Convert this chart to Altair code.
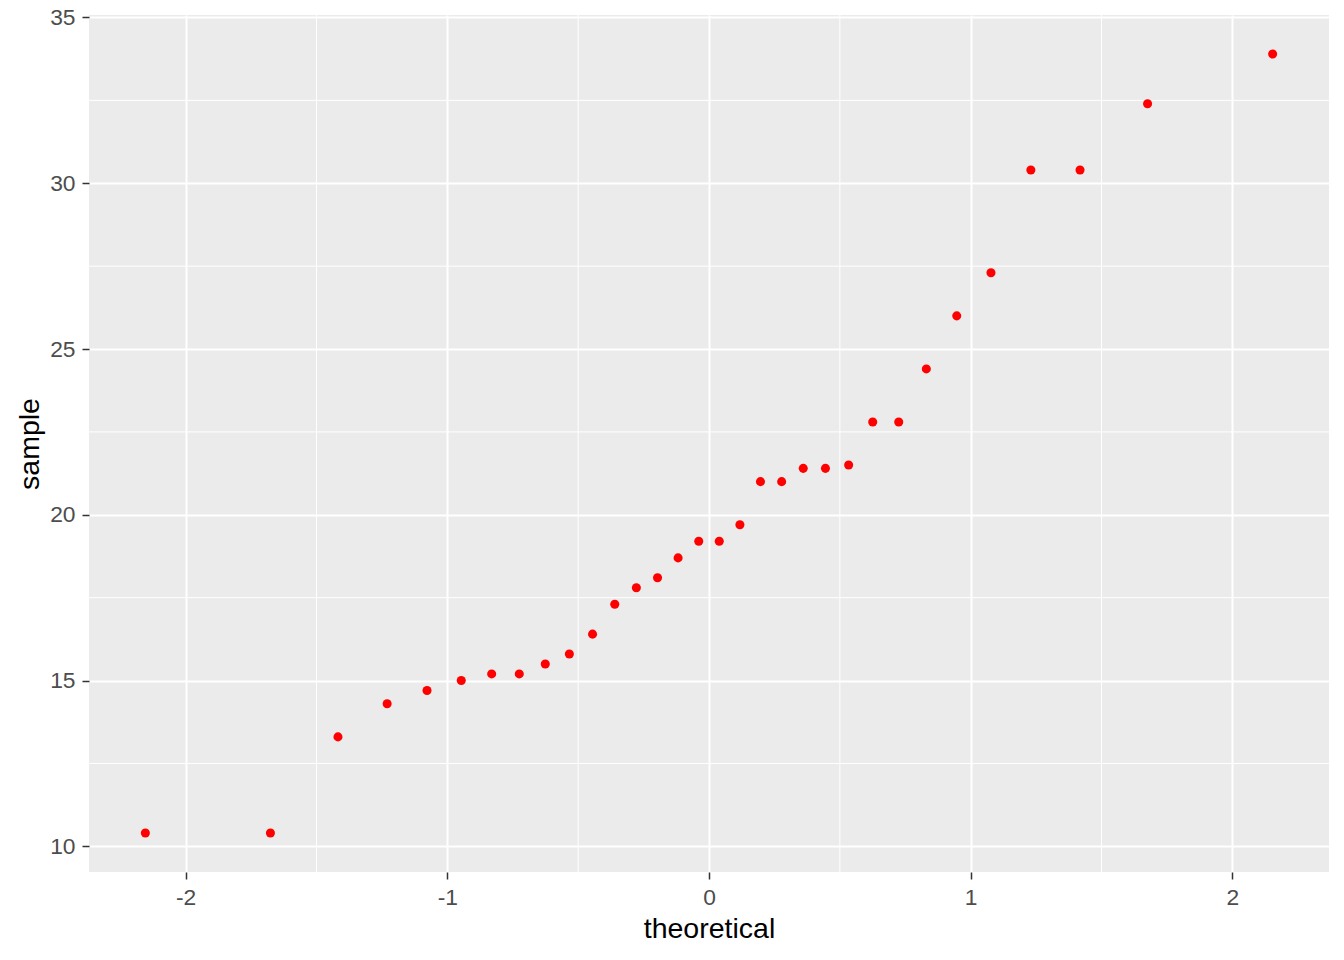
import altair as alt
import pandas as pd

theoretical = [-2.1538, -1.6759, -1.4178, -1.2299, -1.0775, -0.9467, -0.8305, -0.7250,
               -0.6256, -0.5336, -0.4450, -0.3601, -0.2776, -0.1967, -0.1181, -0.0392,
               0.0392, 0.1181, 0.1967, 0.2776, 0.3601, 0.4450, 0.5336, 0.6256,
               0.7250, 0.8305, 0.9467, 1.0775, 1.2299, 1.4178, 1.6759, 2.1538]
sample = [10.4, 10.4, 13.3, 14.3, 14.7, 15.0, 15.2, 15.2, 15.5, 15.8, 16.4, 17.3,
          17.8, 18.1, 18.7, 19.2, 19.2, 19.7, 21.0, 21.0, 21.4, 21.4, 21.5, 22.8,
          22.8, 24.4, 26.0, 27.3, 30.4, 30.4, 32.4, 33.9]
x_major = [-2, -1, 0, 1, 2]
x_minor = [-1.5, -0.5, 0.5, 1.5]
y_major = [10, 15, 20, 25, 30, 35]
y_minor = [12.5, 17.5, 22.5, 27.5, 32.5]
x_domain = [-2.3692, 2.3692]
y_domain = [9.225, 35.075]

df = pd.DataFrame({"theoretical": theoretical, "sample": sample})
xs = alt.Scale(domain=x_domain, nice=False, zero=False)
ys = alt.Scale(domain=y_domain, nice=False, zero=False)
xaxis = alt.Axis(values=x_major, labelExpr="'' + datum.value", grid=True,
                 labelPadding=7, titlePadding=6)
yaxis = alt.Axis(values=y_major, labelExpr="'' + datum.value", grid=True,
                 labelPadding=7, titlePadding=5)

xminor = alt.Chart(pd.DataFrame({"theoretical": x_minor})).mark_rule(color="white", strokeWidth=1).encode(
    x=alt.X("theoretical:Q", scale=xs, title="theoretical", axis=xaxis))
yminor = alt.Chart(pd.DataFrame({"sample": y_minor})).mark_rule(color="white", strokeWidth=1).encode(
    y=alt.Y("sample:Q", scale=ys, title="sample", axis=yaxis))

points = alt.Chart(df).mark_circle(color="#FF0000", opacity=1, size=82).encode(
    x=alt.X("theoretical:Q", scale=xs, title="theoretical", axis=xaxis),
    y=alt.Y("sample:Q", scale=ys, title="sample", axis=yaxis),
)

chart = alt.layer(xminor, yminor, points).properties(
    width=1240, height=857,
    autosize=alt.AutoSizeParams(type="none"),
    padding={"left": 81, "top": 7, "right": 7, "bottom": 80},
    background="white",
).configure_view(
    fill="#EBEBEB", stroke=None
).configure_axis(
    domain=False, gridColor="white", gridWidth=2,
    tickColor="#333333", tickWidth=1.5, tickSize=7,
    labelColor="#4D4D4D", labelFont="Liberation Sans", labelFontSize=22.8,
    titleFont="Liberation Sans", titleFontSize=28.5, titleFontWeight="normal", titleColor="black",
)

chart.save("out.html", embed_options={"renderer": "svg", "actions": False})
